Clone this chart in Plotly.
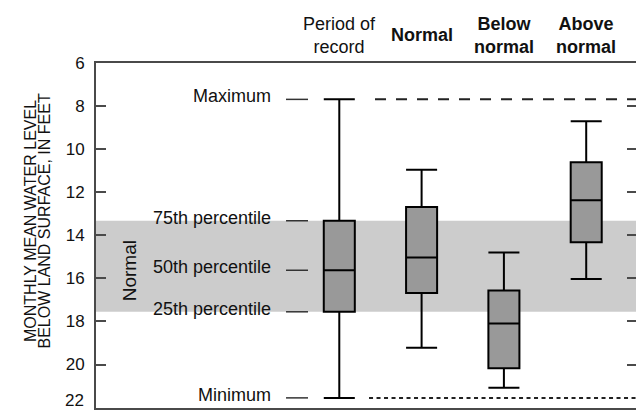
import plotly.graph_objects as go

# ---- data (feet below land surface) ----
categories = ["Period of record", "Normal", "Below normal", "Above normal"]
header_text = ["Period of<br>record", "<b>Normal</b>", "<b>Below<br>normal</b>", "<b>Above<br>normal</b>"]
maximum = [7.68, 10.95, 14.79, 8.70]      # shallowest level
pct75 = [13.32, 12.68, 16.56, 10.60]      # 75th percentile (shallower)
median = [15.62, 15.03, 18.09, 12.37]
pct25 = [17.55, 16.68, 20.17, 14.32]      # 25th percentile (deeper)
minimum = [21.55, 19.22, 21.08, 16.03]    # deepest level

tick_vals = [6, 8, 10, 12, 14, 16, 18, 20, 22]
tick_labels = ["6", "8", "10", "12", "14", "16", "18", "20", "22"]
right_tick_vals = [8, 10, 12, 14, 16, 18, 20]
stat_labels = ["Maximum", "75th percentile", "50th percentile", "25th percentile", "Minimum"]

FONT = "Liberation Sans, Arial, Helvetica, sans-serif"
AXIS_COLOR = "#4a4a4a"

fig = go.Figure()

# depth axis is reversed: numerically smaller values are the upper quartile
fig.add_trace(go.Box(
    x=categories,
    q1=pct75, median=median, q3=pct25,
    lowerfence=maximum, upperfence=minimum,
    width=0.377,
    whiskerwidth=1,
    fillcolor="#999999",
    line=dict(color="#000000", width=2),
    boxpoints=False,
    showlegend=False,
    hoverinfo="skip",
))

# invisible trace to carry the right-hand tick axis
fig.add_trace(go.Scatter(
    x=categories, y=[None] * len(categories), yaxis="y2",
    mode="markers", showlegend=False, hoverinfo="skip",
))

# Normal band (25th-75th percentile of period of record)
fig.add_shape(type="rect", xref="paper", yref="y", x0=0, x1=1,
              y0=pct75[0], y1=pct25[0], fillcolor="#cccccc",
              line=dict(width=0), layer="below")

# Maximum / minimum reference lines
fig.add_shape(type="line", xref="paper", yref="y", x0=0.5167, x1=1,
              y0=maximum[0], y1=maximum[0],
              line=dict(color="#222222", width=2, dash="11px,10px"))
fig.add_shape(type="line", xref="paper", yref="y", x0=0.5056, x1=1,
              y0=minimum[0], y1=minimum[0],
              line=dict(color="#222222", width=2, dash="4px,3.5px"))

# explanation labels with short leader lines
stat_values = [maximum[0], pct75[0], median[0], pct25[0], minimum[0]]
for lab, val in zip(stat_labels, stat_values):
    fig.add_shape(type="line", xref="paper", yref="y", x0=0.3519, x1=0.3926,
                  y0=val, y1=val, line=dict(color="#333333", width=1.5))
    fig.add_annotation(text=lab, xref="paper", yref="y", x=0.3278, y=val,
                       xanchor="right", yanchor="middle", yshift=3,
                       showarrow=False, font=dict(family=FONT, size=18, color="#111111"))

# rotated "Normal" label inside the band
fig.add_annotation(text="Normal", xref="paper", yref="y", x=0.0611, y=median[0],
                   textangle=-90, xanchor="center", yanchor="middle",
                   showarrow=False, font=dict(family=FONT, size=19, color="#111111"))

# column headers
for cat, txt in zip(categories, header_text):
    fig.add_annotation(text=txt, xref="x", yref="paper", x=cat, y=1,
                       xanchor="center", yanchor="middle", yshift=28,
                       showarrow=False, font=dict(family=FONT, size=18, color="#111111"))

# bottom tick label, nudged up so it stays inside the picture
fig.add_annotation(text=tick_labels[-1], xref="paper", yref="paper", x=0, y=0,
                   xanchor="right", yanchor="bottom", xshift=-10, yshift=-4,
                   showarrow=False, font=dict(family=FONT, size=17, color="#111111"))

# y-axis title (two tightly spaced lines)
fig.add_annotation(text="MONTHLY MEAN WATER LEVEL", xref="paper", yref="paper",
                   x=-0.1222, y=0.542, textangle=-90, xanchor="center", yanchor="middle",
                   showarrow=False, font=dict(family=FONT, size=16, color="#111111"))
fig.add_annotation(text="BELOW LAND SURFACE, IN FEET", xref="paper", yref="paper",
                   x=-0.0954, y=0.542, textangle=-90, xanchor="center", yanchor="middle",
                   showarrow=False, font=dict(family=FONT, size=16, color="#111111"))

fig.update_layout(
    width=636, height=412,
    margin=dict(l=96, r=0, t=63, b=4, autoexpand=False),
    paper_bgcolor="white", plot_bgcolor="white",
    showlegend=False,
    xaxis=dict(type="category", categoryorder="array", categoryarray=categories,
               range=[-2.956, 3.605], showticklabels=False, ticks="",
               showgrid=False, zeroline=False, automargin=False,
               showline=True, mirror=True, linecolor=AXIS_COLOR, linewidth=2),
    yaxis=dict(range=[22.02, 5.99], tickvals=tick_vals,
               ticktext=tick_labels[:-1] + [""],
               ticks="inside", ticklen=10,
               tickwidth=1.5, tickcolor=AXIS_COLOR, showgrid=False, zeroline=False,
               showline=True, linecolor=AXIS_COLOR, linewidth=2, automargin=False,
               ticklabelstandoff=6,
               tickfont=dict(family=FONT, size=17, color="#111111")),
    yaxis2=dict(range=[22.02, 5.99], overlaying="y", side="right", anchor="x",
                tickvals=right_tick_vals, ticks="inside", ticklen=9, tickwidth=1.5,
                tickcolor=AXIS_COLOR, showticklabels=False, showgrid=False,
                automargin=False, zeroline=False, showline=False),
)

fig.write_html("out.html", config={"displayModeBar": False},
               post_script="document.body.style.margin='0';document.body.style.overflow='hidden';")
